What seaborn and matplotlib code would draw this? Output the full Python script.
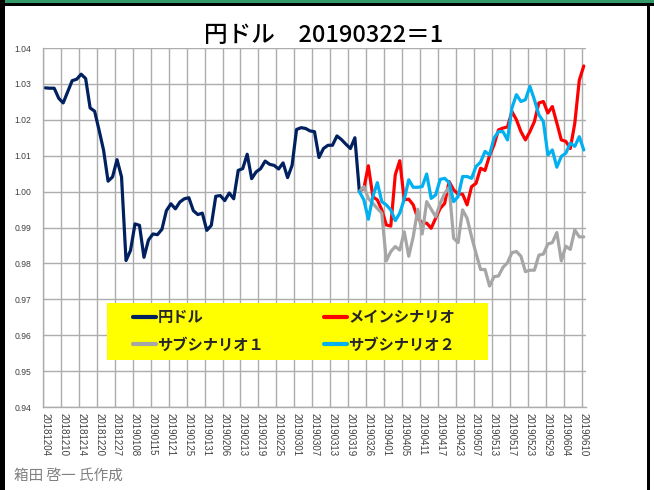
import numpy as np
import pandas as pd
import seaborn as sns
import matplotlib.pyplot as plt
from matplotlib.lines import Line2D
from matplotlib.patches import Rectangle

# colours (Excel-ish)
navy = "#002060"
red = "#FF0000"
gray = "#A6A6A6"
sky = "#00B0F0"
grid_gray = "#ADADAD"

# tick labels, one every 4 business days
tick_labels = ["20181204", "20181210", "20181214", "20181220", "20181227", "20190108",
               "20190115", "20190121", "20190125", "20190131", "20190206", "20190213",
               "20190219", "20190225", "20190301", "20190307", "20190313", "20190319",
               "20190326", "20190401", "20190405", "20190411", "20190417", "20190423",
               "20190507", "20190513", "20190517", "20190523", "20190529", "20190604",
               "20190610"]

# actual yen/dollar, 20190322 = 1
yen_dollar = [1.0289, 1.0288, 1.0288, 1.0260, 1.0247, 1.0278, 1.0309, 1.0313, 1.0327, 1.0315,
              1.0233, 1.0224, 1.0171, 1.0115, 1.0029, 1.0041, 1.0089, 1.0041, 0.9808, 0.9836,
              0.9910, 0.9906, 0.9817, 0.9865, 0.9882, 0.9880, 0.9895, 0.9947, 0.9966, 0.9952,
              0.9971, 0.9980, 0.9983, 0.9947, 0.9936, 0.9940, 0.9892, 0.9906, 0.9987, 0.9989,
              0.9975, 0.9996, 0.9980, 1.0059, 1.0064, 1.0104, 1.0036, 1.0055, 1.0064, 1.0085,
              1.0076, 1.0073, 1.0063, 1.0080, 1.0039, 1.0073, 1.0173, 1.0178, 1.0176, 1.0169,
              1.0167, 1.0095, 1.0120, 1.0129, 1.0129, 1.0155, 1.0145, 1.0132, 1.0120, 1.0150,
              1.0000]

# scenarios starting from 20190322
main_scenario = [1.0000, 1.0009, 1.0072, 0.9986, 0.9977, 0.9949, 0.9907, 0.9904, 1.0047, 1.0086,
                 0.9977, 0.9979, 0.9963, 0.9926, 0.9913, 0.9912, 0.9898, 0.9926, 0.9953, 0.9967,
                 1.0028, 1.0005, 0.9993, 0.9993, 0.9963, 1.0014, 1.0023, 1.0065, 1.0059, 1.0100,
                 1.0130, 1.0172, 1.0177, 1.0180, 1.0223, 1.0200, 1.0167, 1.0144, 1.0167, 1.0195,
                 1.0247, 1.0251, 1.0219, 1.0237, 1.0191, 1.0144, 1.0140, 1.0120, 1.0190, 1.0310,
                 1.0350]
sub_scenario1 = [1.0000, 1.0014, 0.9981, 0.9967, 0.9953, 0.9940, 0.9807, 0.9833, 0.9847, 0.9837,
                 0.9888, 0.9820, 0.9874, 0.9951, 0.9882, 0.9972, 0.9951, 0.9930, 0.9967, 0.9995,
                 1.0012, 0.9870, 0.9858, 0.9949, 0.9926, 0.9874, 0.9828, 0.9783, 0.9783, 0.9737,
                 0.9763, 0.9765, 0.9789, 0.9802, 0.9830, 0.9833, 0.9820, 0.9777, 0.9781, 0.9781,
                 0.9823, 0.9826, 0.9854, 0.9858, 0.9886, 0.9807, 0.9848, 0.9839, 0.9893, 0.9874,
                 0.9874]
sub_scenario2 = [1.0000, 0.9977, 0.9923, 0.9986, 1.0025, 0.9972, 0.9963, 0.9949, 0.9919, 0.9940,
                 0.9979, 1.0033, 1.0012, 1.0012, 1.0014, 1.0049, 0.9981, 0.9991, 1.0034, 1.0037,
                 1.0025, 0.9972, 0.9986, 1.0042, 1.0042, 1.0037, 1.0070, 1.0082, 1.0112, 1.0102,
                 1.0149, 1.0167, 1.0167, 1.0144, 1.0233, 1.0270, 1.0251, 1.0256, 1.0293, 1.0256,
                 1.0214, 1.0195, 1.0102, 1.0116, 1.0068, 1.0098, 1.0107, 1.0135, 1.0126, 1.0153,
                 1.0116]

series_names = ["円ドル", "メインシナリオ", "サブシナリオ１", "サブシナリオ２"]

sns.set_theme(style="white")
plt.rcParams["font.family"] = ["Noto Sans CJK JP", "DejaVu Sans"]

start = len(yen_dollar) - 1
df_actual = pd.DataFrame({"idx": np.arange(len(yen_dollar)), "value": yen_dollar})
df_scen = pd.DataFrame({"idx": np.arange(start, start + len(main_scenario)),
                        "main": main_scenario, "sub1": sub_scenario1, "sub2": sub_scenario2})

fig = plt.figure(figsize=(6.54, 4.9), dpi=100)
ax = fig.add_axes([43 / 654, 1 - 407 / 490, 543 / 654, 359 / 490])

lw = 2.3
sns.lineplot(data=df_actual, x="idx", y="value", color=navy, lw=lw, ax=ax)
sns.lineplot(data=df_scen, x="idx", y="main", color=red, lw=lw, ax=ax)
sns.lineplot(data=df_scen, x="idx", y="sub1", color=gray, lw=lw, ax=ax)
sns.lineplot(data=df_scen, x="idx", y="sub2", color=sky, lw=lw, ax=ax)

n_cat = start + len(main_scenario)
ax.set_xlim(-0.5, n_cat - 0.5)
ax.set_ylim(0.94, 1.04)
ax.set_xlabel("")
ax.set_ylabel("")

ax.set_xticks(np.arange(0, n_cat, 4))
ax.set_xticklabels(tick_labels, rotation=-90, fontsize=7, family="Liberation Sans", color="#404040")
ax.set_xticks(np.arange(-0.5, n_cat, 4), minor=True)
ax.set_yticks(np.arange(0.94, 1.0401, 0.01))
ax.set_yticklabels([f"{v:.2f}" for v in np.arange(0.94, 1.0401, 0.01)],
                   fontsize=6.2, family="Liberation Sans", color="#404040")
ax.tick_params(axis="both", which="both", length=0)
ax.tick_params(axis="x", pad=4.5)
ax.tick_params(axis="y", pad=8.5)

ax.grid(False)
ax.grid(True, which="minor", axis="x", color=grid_gray, lw=1)
ax.grid(True, which="major", axis="y", color=grid_gray, lw=1)
ax.set_axisbelow(True)
for side in ["top", "right"]:
    ax.spines[side].set_visible(False)
for side in ["left", "bottom"]:
    ax.spines[side].set_color(grid_gray)
    ax.spines[side].set_linewidth(1)

fig.text(324 / 654, 1 - 36 / 490, "円ドル　20190322＝1", ha="center", va="center",
         fontsize=17, fontweight="medium", color="black")

# yellow legend box
fig.patches.append(Rectangle((107 / 654, 1 - 360 / 490), 381 / 654, 57 / 490,
                             transform=fig.transFigure, facecolor="#FFFF00",
                             edgecolor="none", zorder=5))
handles = [Line2D([], [], color=c, lw=3) for c in [navy, gray, red, sky]]
labels = [series_names[0], series_names[2], series_names[1], series_names[3]]
fig.legend(handles, labels, ncol=2, loc="upper left",
           bbox_to_anchor=(130 / 654, 1 - 306 / 490), frameon=False,
           prop={"size": 11, "weight": "bold"}, handlelength=1.5, handletextpad=0.1,
           columnspacing=3.9, labelspacing=0.75, borderaxespad=0, borderpad=0.2)

# frame of the screenshot
fig.patches.append(Rectangle((0, 1 - 3 / 490), 1, 3 / 490, transform=fig.transFigure,
                             facecolor="#339966", edgecolor="none"))
fig.patches.append(Rectangle((0, 1 - 6 / 490), 1, 3 / 490, transform=fig.transFigure,
                             facecolor="black", edgecolor="none"))
fig.patches.append(Rectangle((0, 0), 5 / 654, 1, transform=fig.transFigure,
                             facecolor="black", edgecolor="none"))
fig.patches.append(Rectangle((647 / 654, 0), 3 / 654, 1 - 3 / 490, transform=fig.transFigure,
                             facecolor="black", edgecolor="none"))

fig.text(14 / 654, 1 - 476 / 490, "箱田 啓一 氏作成", ha="left", va="center",
         fontsize=10.5, color="#808080")

fig.savefig("out.png", dpi=100)
